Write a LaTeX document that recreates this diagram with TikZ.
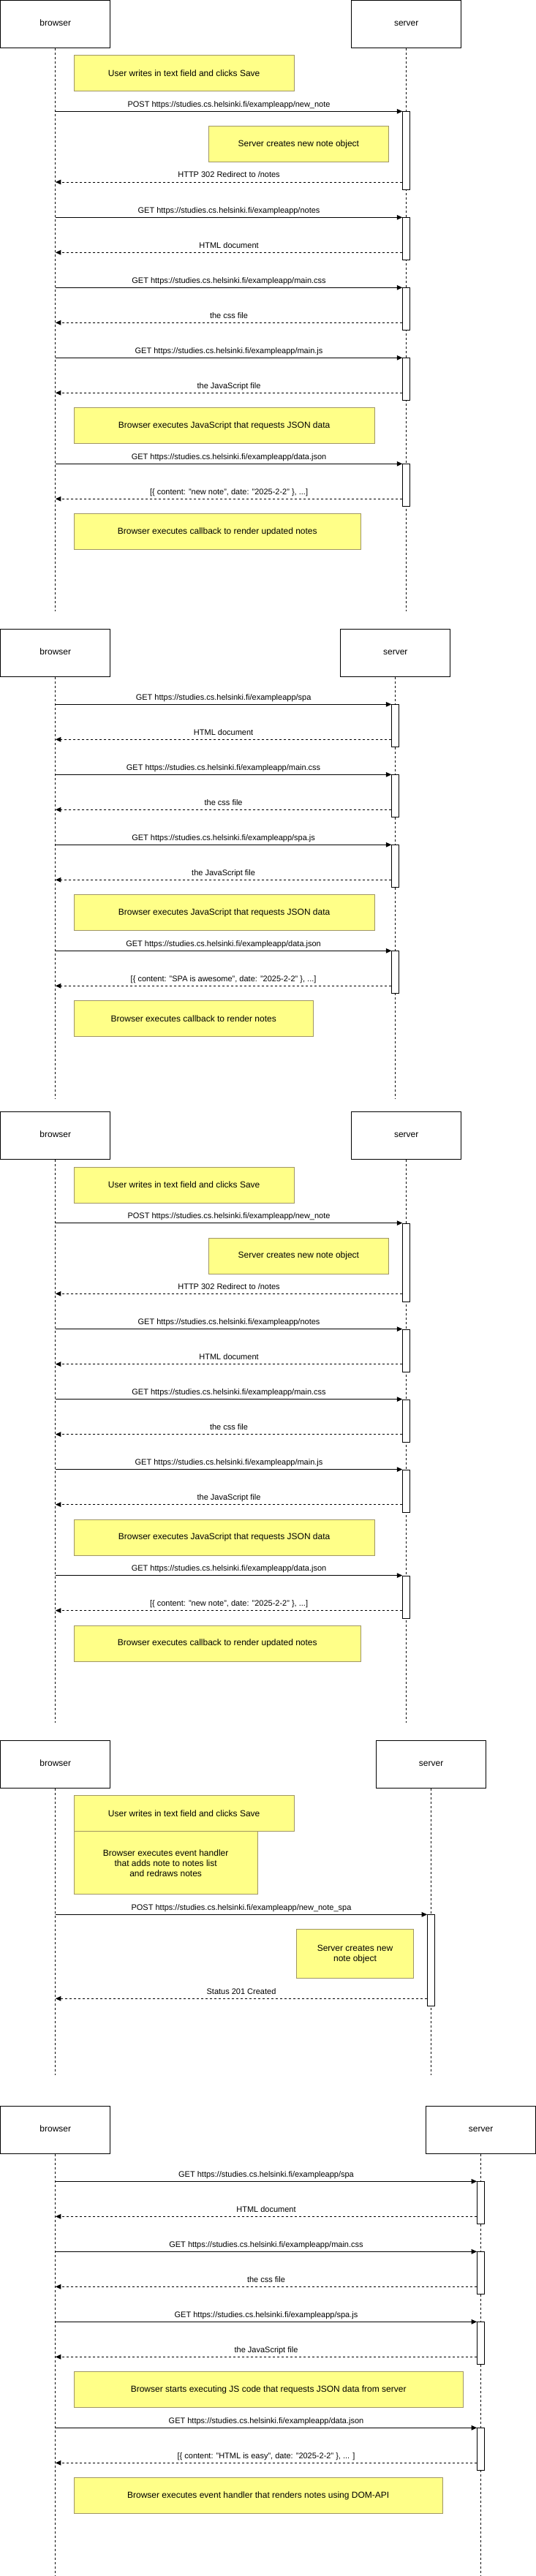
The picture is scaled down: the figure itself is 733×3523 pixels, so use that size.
\documentclass[tikz,border=0pt]{standalone}
\usepackage{fontspec}
\setmainfont{Liberation Sans}
\usepackage{tikz}
\usetikzlibrary{arrows.meta,calc}
\definecolor{noteyellow}{RGB}{255,255,136}
\definecolor{noteline}{RGB}{160,150,100}

\begin{document}
\begin{tikzpicture}[x=1pt, y=-1pt, line width=1pt,
		actor/.style={draw, minimum width=150, minimum height=65, inner sep=0pt, text height=8.6pt, text depth=2.6pt, font=\fontsize{12}{14}\selectfont},
		life/.style={dash pattern=on 3pt off 3pt},
		act/.style={draw, fill=white, anchor=north, minimum width=9.8, minimum height=58, inner sep=0pt},
		note/.style={draw=noteline, fill=noteyellow, anchor=north west, align=center, inner sep=0pt, minimum height=49, font=\fontsize{12}{14}\selectfont},
		msg/.style={-{Triangle[length=7.5pt, width=6.5pt]}},
		ret/.style={msg, dash pattern=on 3pt off 3pt},
		lbl/.style={font=\fontsize{11}{13}\selectfont, inner sep=0pt, text height=8pt, text depth=2.4pt, yshift=9pt}]
		\useasboundingbox (0,0) rectangle (733,3523);
		% diagrams 1 and 3: classic page, new note
		\foreach \d/\o in {1/0, 3/1520.3} {
			\begin{scope}[shift={(0,\o)}]
			\node[actor] (b\d) at (75.8,32.5) {browser};
			\node[actor] (s\d) at (555.7,32.5) {server};
			\coordinate (e\d) at (0,836);
			\draw[life] (b\d.south) -- (b\d.south |- e\d);
			\draw[life] (s\d.south) -- (s\d.south |- e\d);
			% form submit
			\node[note, minimum width=301.2] (n\d1) at (100.6,75.3) {User writes in text field and clicks Save};
			\node[act, minimum height=107] (a\d1) at (555.7,152.3) {};
			\draw[msg] (b\d.south |- a\d1.north) -- node[lbl] {POST https://studies.cs.helsinki.fi/exampleapp/new\_note} (a\d1.north west);
			\node[note, minimum width=246.1] (n\d2) at (284.8,172.3) {Server creates new note object};
			\coordinate (r\d1) at ([yshift=-96.7pt]a\d1.north west);
			\draw[ret] (r\d1) -- node[lbl] {HTTP 302 Redirect to /notes} (b\d.south |- r\d1);
			% reload of the page
			\foreach \n/\y/\req/\res in {2/297.3/notes/HTML document, 3/393.3/main.css/the css file, 4/489.3/main.js/the JavaScript file} {
				\node[act] (a\d\n) at (555.7,\y) {};
				\draw[msg] (b\d.south |- a\d\n.north) -- node[lbl] {GET https://studies.cs.helsinki.fi/exampleapp/\req} (a\d\n.north west);
				\coordinate (r\d\n) at ([yshift=-48pt]a\d\n.north west);
				\draw[ret] (r\d\n) -- node[lbl] {\res} (b\d.south |- r\d\n);
			}
			\node[note, minimum width=411.1] (n\d3) at (100.6,557.3) {Browser executes JavaScript that requests JSON data};
			\node[act] (a\d5) at (555.7,634.3) {};
			\draw[msg] (b\d.south |- a\d5.north) -- node[lbl] {GET https://studies.cs.helsinki.fi/exampleapp/data.json} (a\d5.north west);
			\coordinate (r\d5) at ([yshift=-48pt]a\d5.north west);
			\draw[ret] (r\d5) -- node[lbl] {[\{ content: "new note", date: "2025-2-2" \}, ...]} (b\d.south |- r\d5);
			\node[note, minimum width=392.4] (n\d4) at (100.6,702.3) {Browser executes callback to render updated notes};
			\end{scope}
		}
		% diagram 2: single page app loads
		\begin{scope}[shift={(0,860.3)}]
		\node[actor] (b2) at (75.8,32.5) {browser};
		\node[actor] (s2) at (540.8,32.5) {server};
		\coordinate (e2) at (0,642);
		\draw[life] (b2.south) -- (b2.south |- e2);
		\draw[life] (s2.south) -- (s2.south |- e2);
		\foreach \n/\y/\req/\res in {1/103/spa/HTML document, 2/199/main.css/the css file, 3/295/spa.js/the JavaScript file} {
			\node[act] (a2\n) at (540.8,\y) {};
			\draw[msg] (b2.south |- a2\n.north) -- node[lbl] {GET https://studies.cs.helsinki.fi/exampleapp/\req} (a2\n.north west);
			\coordinate (r2\n) at ([yshift=-48pt]a2\n.north west);
			\draw[ret] (r2\n) -- node[lbl] {\res} (b2.south |- r2\n);
		}
		\node[note, minimum width=411.1] (n21) at (100.6,363) {Browser executes JavaScript that requests JSON data};
		\node[act] (a24) at (540.8,440) {};
		\draw[msg] (b2.south |- a24.north) -- node[lbl] {GET https://studies.cs.helsinki.fi/exampleapp/data.json} (a24.north west);
		\coordinate (r24) at ([yshift=-48pt]a24.north west);
		\draw[ret] (r24) -- node[lbl] {[\{ content: "SPA is awesome", date: "2025-2-2" \}, ...]} (b2.south |- r24);
		\node[note, minimum width=327.4] (n22) at (100.6,508) {Browser executes callback to render notes};
		\end{scope}
		% diagram 4: new note in the single page app
		\begin{scope}[shift={(0,2380.3)}]
		\node[actor] (b4) at (75.8,32.5) {browser};
		\node[actor] (s4) at (589.6,32.5) {server};
		\coordinate (e4) at (0,458);
		\draw[life] (b4.south) -- (b4.south |- e4);
		\draw[life] (s4.south) -- (s4.south |- e4);
		\node[note, minimum width=301.2] (n41) at (100.6,75) {User writes in text field and clicks Save};
		\node[note, minimum width=251.1, minimum height=86] (n42) at (100.6,124) {Browser executes event handler\\that adds note to notes list\\and redraws notes};
		\node[act, minimum height=125] (a41) at (589.6,238) {};
		\draw[msg] (b4.south |- a41.north) -- node[lbl] {POST https://studies.cs.helsinki.fi/exampleapp/new\_note\_spa} (a41.north west);
		\node[note, minimum width=160, minimum height=67] (n43) at (405,258) {Server creates new\\note object};
		\coordinate (r41) at ([yshift=-115pt]a41.north west);
		\draw[ret] (r41) -- node[lbl] {Status 201 Created} (b4.south |- r41);
		\end{scope}
		% diagram 5: single page app loads, DOM-API
		\begin{scope}[shift={(0,2880)}]
		\node[actor] (b5) at (75.8,32.5) {browser};
		\node[actor] (s5) at (657.6,32.5) {server};
		\coordinate (e5) at (0,643);
		\draw[life] (b5.south) -- (b5.south |- e5);
		\draw[life] (s5.south) -- (s5.south |- e5);
		\foreach \n/\y/\req/\res in {1/103.3/spa/HTML document, 2/199.3/main.css/the css file, 3/295.3/spa.js/the JavaScript file} {
			\node[act] (a5\n) at (657.6,\y) {};
			\draw[msg] (b5.south |- a5\n.north) -- node[lbl] {GET https://studies.cs.helsinki.fi/exampleapp/\req} (a5\n.north west);
			\coordinate (r5\n) at ([yshift=-48pt]a5\n.north west);
			\draw[ret] (r5\n) -- node[lbl] {\res} (b5.south |- r5\n);
		}
		\node[note, minimum width=532.2] (n51) at (100.6,363.3) {Browser starts executing JS code that requests JSON data from server};
		\node[act] (a54) at (657.6,440.3) {};
		\draw[msg] (b5.south |- a54.north) -- node[lbl] {GET https://studies.cs.helsinki.fi/exampleapp/data.json} (a54.north west);
		\coordinate (r54) at ([yshift=-48pt]a54.north west);
		\draw[ret] (r54) -- node[lbl] {[\{ content: "HTML is easy", date: "2025-2-2" \}, ... ]} (b5.south |- r54);
		\node[note, minimum width=504.2] (n52) at (100.6,508.3) {Browser executes event handler that renders notes using DOM-API};
		\end{scope}
	\end{tikzpicture}
\end{document}
